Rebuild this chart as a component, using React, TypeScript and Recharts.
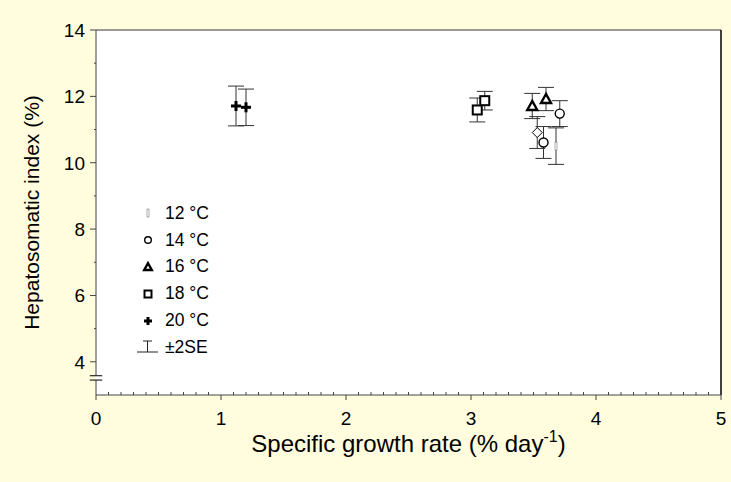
import { ScatterChart, Scatter, XAxis, YAxis, ErrorBar, ReferenceLine } from 'recharts';

const FONT = '"Liberation Sans", Arial, sans-serif';
const BG = '#FFFDDE';
const AXIS = '#444';

// series: x = specific growth rate, y = HSI, err = 2SE
const temp12 = [{ x: 3.68, y: 10.5, err: 0.55 }];
const temp12b = [{ x: 3.53, y: 10.91, err: 0.48 }];
const temp14 = [
  { x: 3.58, y: 10.61, err: 0.48 },
  { x: 3.71, y: 11.48, err: 0.39 },
];
const temp16 = [
  { x: 3.49, y: 11.71, err: 0.38 },
  { x: 3.6, y: 11.92, err: 0.35 },
];
const temp18 = [
  { x: 3.05, y: 11.59, err: 0.36 },
  { x: 3.11, y: 11.87, err: 0.28 },
];
const temp20 = [
  { x: 1.12, y: 11.71, err: 0.6 },
  { x: 1.2, y: 11.67, err: 0.55 },
];

const xMajor = [0, 1, 2, 3, 4, 5];
const xTicks: number[] = [];
for (let i = 0; i <= 50; i++) xTicks.push(i / 10);
const yMajor = [4, 6, 8, 10, 12, 14];
const yTicks = [4, 5, 6, 7, 8, 9, 10, 11, 12, 13, 14];
const legendItems = ['12 °C', '14 °C', '16 °C', '18 °C', '20 °C'];

const isMajor = (v: number, list: number[]) => list.some(m => Math.abs(m - v) < 1e-6);

const XTick = (props: any) => {
  const { x, y, payload } = props;
  const v = payload.value;
  if (isMajor(v, xMajor)) {
    return (
      <g>
        <line x1={x} x2={x} y1={y} y2={y + 5} stroke={AXIS} />
        <text x={x} y={y + 30} textAnchor="middle" fontSize={19} fontFamily={FONT} fill="#000">{v}</text>
      </g>
    );
  }
  return <line x1={x} x2={x} y1={y} y2={y - 3} stroke={AXIS} />;
};

const YTick = (props: any) => {
  const { x, y, payload } = props;
  const v = payload.value;
  if (isMajor(v, yMajor)) {
    return (
      <g>
        <line x1={x - 6} x2={x} y1={y} y2={y} stroke={AXIS} />
        <text x={x - 11} y={y + 7} textAnchor="end" fontSize={19} fontFamily={FONT} fill="#000">{v}</text>
      </g>
    );
  }
  return <line x1={x - 2} x2={x} y1={y} y2={y} stroke={AXIS} />;
};

const Circle = ({ cx, cy, r = 4.5 }: any) => (
  <circle cx={cx} cy={cy} r={r} fill="#fff" stroke="#000" strokeWidth={1.4} />
);
const Triangle = ({ cx, cy, s = 5 }: any) => (
  <polygon
    points={`${cx},${cy - s} ${cx - s},${cy + s * 0.8} ${cx + s},${cy + s * 0.8}`}
    fill="#fff" stroke="#000" strokeWidth={2.4} strokeLinejoin="miter"
  />
);
const Square = ({ cx, cy, s = 4.5 }: any) => (
  <rect x={cx - s} y={cy - s} width={s * 2} height={s * 2} fill="#fff" stroke="#000" strokeWidth={2} />
);
const Plus = ({ cx, cy, s = 5 }: any) => (
  <g stroke="#000" strokeWidth={3}>
    <line x1={cx - s} x2={cx + s} y1={cy} y2={cy} />
    <line x1={cx} x2={cx} y1={cy - s} y2={cy + s} />
  </g>
);
const Diamond = ({ cx, cy, s = 5 }: any) => (
  <polygon
    points={`${cx},${cy - s} ${cx + s},${cy} ${cx},${cy + s} ${cx - s},${cy}`}
    fill="#fff" stroke="#000" strokeWidth={1}
  />
);
const Slim = ({ cx, cy }: any) => (
  <rect x={cx - 1} y={cy - 4} width={2} height={8} fill="#fff" stroke="#777" strokeWidth={0.6} />
);

const legendShapes = [
  (cx: number, cy: number) => <Slim cx={cx} cy={cy} />,
  (cx: number, cy: number) => <Circle cx={cx} cy={cy} r={3.3} />,
  (cx: number, cy: number) => <Triangle cx={cx} cy={cy} s={3.8} />,
  (cx: number, cy: number) => <Square cx={cx} cy={cy} s={3.5} />,
  (cx: number, cy: number) => <Plus cx={cx} cy={cy} s={4} />,
];

function TempLegend() {
  return (
    <div style={{ position: 'absolute', left: 135, top: 200, fontFamily: FONT, fontSize: 17.5 }}>
      {legendItems.map((label, i) => (
        <div key={label} style={{ display: 'flex', alignItems: 'center', height: 26.8 }}>
          <svg width={26} height={20} style={{ marginRight: 4 }}>
            {legendShapes[i](13, 10)}
          </svg>
          <span>{label}</span>
        </div>
      ))}
      <div style={{ display: 'flex', alignItems: 'center', height: 26.8 }}>
        <svg width={26} height={20} style={{ marginRight: 4 }}>
          <g stroke="#222" strokeWidth={1}>
            <line x1={8} x2={17} y1={4} y2={4} />
            <line x1={12.5} x2={12.5} y1={4} y2={15} />
            <line x1={2} x2={23} y1={15} y2={15} />
          </g>
        </svg>
        <span>±2SE</span>
      </div>
    </div>
  );
}

export default function App() {
  return (
    <div style={{ position: 'absolute', left: 0, top: 0, width: 731, height: 482, background: BG }}>
      <ScatterChart width={731} height={482} margin={{ top: 30, right: 10, left: 0, bottom: 0 }}>
        <rect x={96} y={30} width={625} height={365} fill="#fff" />
        <XAxis
          type="number"
          dataKey="x"
          domain={[0, 5]}
          ticks={xTicks}
          interval={0}
          tickLine={false}
          tickSize={0}
          tickMargin={0}
          tick={<XTick />}
          stroke={AXIS}
          height={87}
          allowDataOverflow
          label={({ viewBox }: any) => (
            <text x={viewBox.x + viewBox.width / 2} y={viewBox.y + 57} textAnchor="middle" fontSize={24} fontFamily={FONT} fill="#000">
              Specific growth rate (% day<tspan dy={-10} fontSize={16}>-1</tspan><tspan dy={10}>)</tspan>
            </text>
          )}
        />
        <YAxis
          type="number"
          dataKey="y"
          domain={[3, 14]}
          ticks={yTicks}
          interval={0}
          tickLine={false}
          tickSize={0}
          tickMargin={0}
          tick={<YTick />}
          axisLine={false}
          width={96}
          allowDataOverflow
          label={({ viewBox }: any) => (
            <text
              x={39}
              y={viewBox.y + viewBox.height / 2}
              textAnchor="middle"
              transform={`rotate(-90 39 ${viewBox.y + viewBox.height / 2})`}
              fontSize={21}
              fontFamily={FONT}
              fill="#000"
            >
              Hepatosomatic index (%)
            </text>
          )}
        />
        <ReferenceLine y={14} stroke="#777" strokeWidth={1.5} ifOverflow="visible" />
        <ReferenceLine x={5} stroke="#000" strokeWidth={1.5} ifOverflow="visible" />
        <ReferenceLine segment={[{ x: 0, y: 3 }, { x: 0, y: 3.45 }]} stroke={AXIS} ifOverflow="visible" />
        <ReferenceLine segment={[{ x: 0, y: 3.58 }, { x: 0, y: 14 }]} stroke={AXIS} ifOverflow="visible" />
        <ReferenceLine segment={[{ x: -0.05, y: 3.45 }, { x: 0.05, y: 3.45 }]} stroke="#000" ifOverflow="visible" />
        <ReferenceLine segment={[{ x: -0.05, y: 3.58 }, { x: 0.05, y: 3.58 }]} stroke="#000" ifOverflow="visible" />

        <Scatter data={temp20} shape={<Plus />} isAnimationActive={false}>
          <ErrorBar dataKey="err" direction="y" width={8} stroke="#333" strokeWidth={1} />
        </Scatter>
        <Scatter data={temp18} shape={<Square />} isAnimationActive={false}>
          <ErrorBar dataKey="err" direction="y" width={8} stroke="#333" strokeWidth={1} />
        </Scatter>
        <Scatter data={temp16} shape={<Triangle />} isAnimationActive={false}>
          <ErrorBar dataKey="err" direction="y" width={8} stroke="#333" strokeWidth={1} />
        </Scatter>
        <Scatter data={temp12b} shape={<Diamond />} isAnimationActive={false}>
          <ErrorBar dataKey="err" direction="y" width={8} stroke="#333" strokeWidth={1} />
        </Scatter>
        <Scatter data={temp14} shape={<Circle />} isAnimationActive={false}>
          <ErrorBar dataKey="err" direction="y" width={8} stroke="#333" strokeWidth={1} />
        </Scatter>
        <Scatter data={temp12} shape={<Slim />} isAnimationActive={false}>
          <ErrorBar dataKey="err" direction="y" width={8} stroke="#333" strokeWidth={1} />
        </Scatter>
      </ScatterChart>
      <TempLegend />
    </div>
  );
}
